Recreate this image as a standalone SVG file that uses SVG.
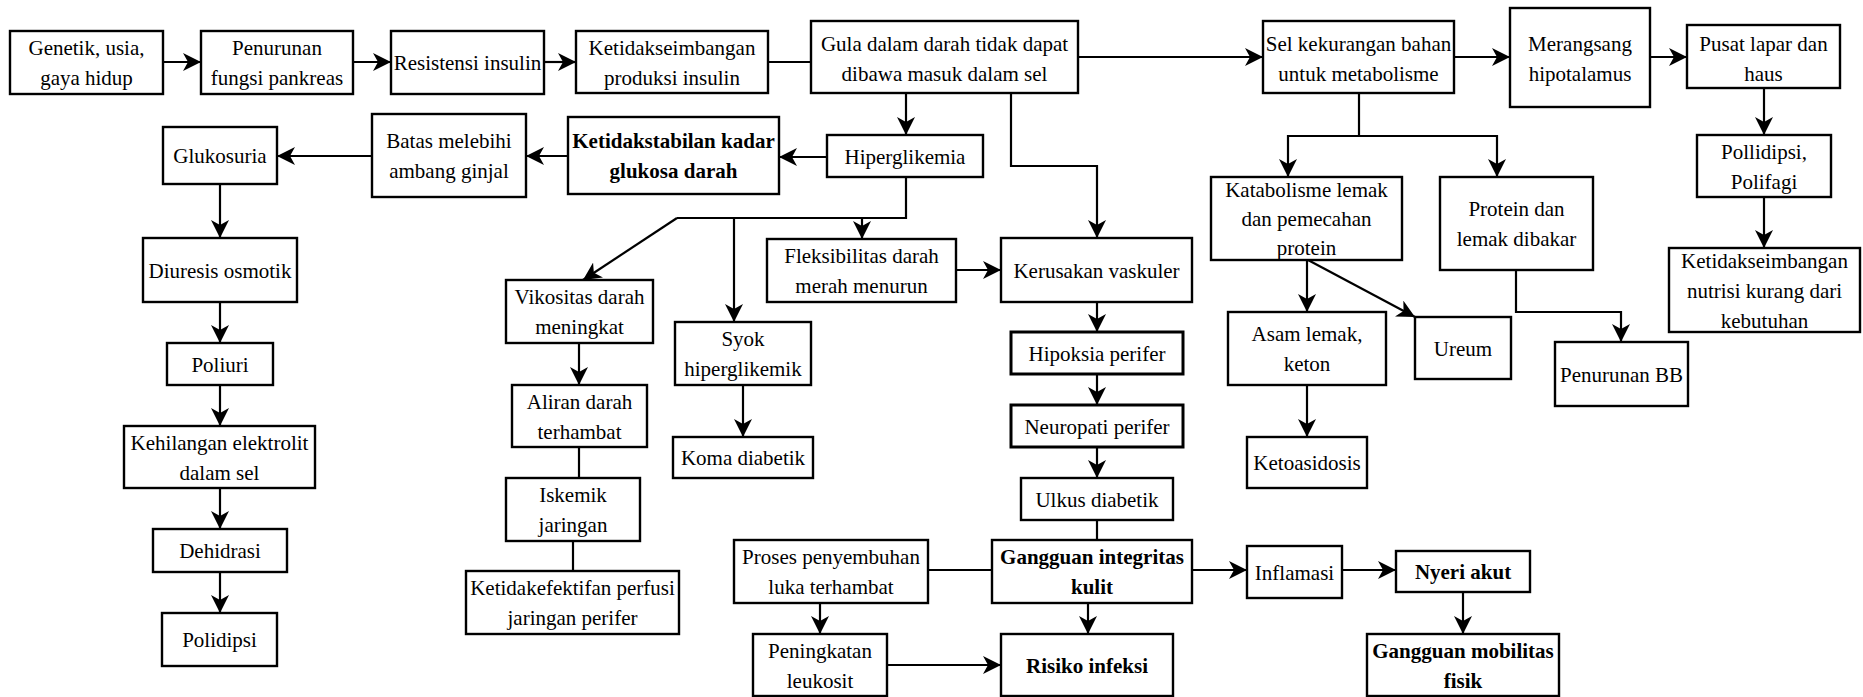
<svg xmlns="http://www.w3.org/2000/svg" width="1863" height="697" viewBox="0 0 1863 697" font-family="'Liberation Serif', 'DejaVu Serif', serif">
<defs>
<marker id="ah" markerUnits="userSpaceOnUse" markerWidth="18" markerHeight="18" viewBox="0 0 18 18" refX="18" refY="9" orient="auto">
<path d="M0,0 L18,9 L0,18 L5,9 z" fill="#000"/>
</marker>
<style>
rect{fill:#fff;stroke:#000;stroke-width:2.4}
text{font-family:'Liberation Serif','DejaVu Serif',serif;font-size:21px;fill:#000;text-anchor:middle}
.b{font-weight:bold}
#connectors path,#connectors line{fill:none;stroke:#000;stroke-width:2.2}
.a{marker-end:url(#ah)}
</style>
</defs>
<rect x="0" y="0" width="1863" height="697" style="fill:#fff;stroke:none"/>
<g id="connectors">
<line class="a" x1="163" y1="62" x2="201" y2="62"/>
<line class="a" x1="353" y1="62" x2="391" y2="62"/>
<line class="a" x1="544" y1="62" x2="576" y2="62"/>
<line x1="768" y1="62" x2="811" y2="62"/>
<line class="a" x1="1078" y1="57" x2="1263" y2="57"/>
<line class="a" x1="1454" y1="57" x2="1510" y2="57"/>
<line class="a" x1="1650" y1="57" x2="1687" y2="57"/>
<line class="a" x1="1764" y1="88" x2="1764" y2="135"/>
<line class="a" x1="1764" y1="197" x2="1764" y2="248"/>
<path d="M1359,93 L1359,136"/>
<path class="a" d="M1359,136 L1288,136 L1288,177"/>
<path class="a" d="M1359,136 L1497,136 L1497,177"/>
<line class="a" x1="1307" y1="260" x2="1307" y2="312"/>
<line class="a" x1="1308" y1="260" x2="1415" y2="317"/>
<line class="a" x1="1307" y1="385" x2="1307" y2="437"/>
<path class="a" d="M1516,270 L1516,312 L1621,312 L1621,342"/>
<line class="a" x1="906" y1="93" x2="906" y2="135"/>
<line class="a" x1="827" y1="157" x2="779" y2="157"/>
<line class="a" x1="568" y1="156" x2="526" y2="156"/>
<line class="a" x1="372" y1="156" x2="277" y2="156"/>
<line class="a" x1="220" y1="184" x2="220" y2="238"/>
<line class="a" x1="220" y1="302" x2="220" y2="343"/>
<line class="a" x1="220" y1="385" x2="220" y2="426"/>
<line class="a" x1="220" y1="488" x2="220" y2="529"/>
<line class="a" x1="220" y1="572" x2="220" y2="613"/>
<path class="a" d="M1011,93 L1011,166 L1097,166 L1097,238"/>
<path d="M906,177 L906,218 L677,218"/>
<line class="a" x1="862" y1="218" x2="862" y2="239"/>
<line class="a" x1="734" y1="218" x2="734" y2="322"/>
<line class="a" x1="677" y1="218" x2="583" y2="280"/>
<line class="a" x1="956" y1="270" x2="1001" y2="270"/>
<line class="a" x1="579" y1="343" x2="579" y2="385"/>
<line x1="579" y1="447" x2="579" y2="478"/>
<line x1="573" y1="541" x2="573" y2="571"/>
<line class="a" x1="743" y1="385" x2="743" y2="437"/>
<line class="a" x1="1097" y1="302" x2="1097" y2="332"/>
<line class="a" x1="1097" y1="374" x2="1097" y2="405"/>
<line class="a" x1="1097" y1="447" x2="1097" y2="478"/>
<line x1="1097" y1="520" x2="1097" y2="540"/>
<line x1="928" y1="570" x2="992" y2="570"/>
<line class="a" x1="1192" y1="570" x2="1247" y2="570"/>
<line class="a" x1="1342" y1="570" x2="1396" y2="570"/>
<line class="a" x1="1463" y1="592" x2="1463" y2="634"/>
<line class="a" x1="1088" y1="603" x2="1088" y2="634"/>
<line class="a" x1="820" y1="603" x2="820" y2="634"/>
<line class="a" x1="887" y1="665" x2="1001" y2="665"/>
</g>
<g id="n1"><rect x="10" y="31" width="153" height="63"/><text x="86.5" y="55">Genetik, usia,</text><text x="86.5" y="85">gaya hidup</text></g>
<g id="n2"><rect x="201" y="31" width="152" height="63"/><text x="277" y="55">Penurunan</text><text x="277" y="85">fungsi pankreas</text></g>
<g id="n3"><rect x="391" y="31" width="153" height="63"/><text x="467.5" y="70">Resistensi insulin</text></g>
<g id="n4"><rect x="576" y="31" width="192" height="62"/><text x="672" y="55">Ketidakseimbangan</text><text x="672" y="85">produksi insulin</text></g>
<g id="n5"><rect x="811" y="21" width="267" height="72"/><text x="944.5" y="51">Gula dalam darah tidak dapat</text><text x="944.5" y="81">dibawa masuk dalam sel</text></g>
<g id="n6"><rect x="1263" y="21" width="191" height="72"/><text x="1358.5" y="51">Sel kekurangan bahan</text><text x="1358.5" y="81">untuk metabolisme</text></g>
<g id="n7"><rect x="1510" y="8" width="140" height="99"/><text x="1580" y="51">Merangsang</text><text x="1580" y="81">hipotalamus</text></g>
<g id="n8"><rect x="1687" y="25" width="153" height="63"/><text x="1763.5" y="51">Pusat lapar dan</text><text x="1763.5" y="81">haus</text></g>
<g id="n9"><rect x="1697" y="135" width="134" height="62"/><text x="1764" y="158.5">Pollidipsi,</text><text x="1764" y="188.5">Polifagi</text></g>
<g id="n10"><rect x="1669" y="248" width="191" height="84"/><text x="1764.5" y="267.5">Ketidakseimbangan</text><text x="1764.5" y="297.5">nutrisi kurang dari</text><text x="1764.5" y="327.5">kebutuhan</text></g>
<g id="n11"><rect x="163" y="127" width="114" height="57"/><text x="220" y="163">Glukosuria</text></g>
<g id="n12"><rect x="372" y="114" width="154" height="83"/><text x="449" y="148">Batas melebihi</text><text x="449" y="178">ambang ginjal</text></g>
<g id="n13"><rect x="568" y="117" width="211" height="77"/><text class="b" x="673.5" y="148">Ketidakstabilan kadar</text><text class="b" x="673.5" y="178">glukosa darah</text></g>
<g id="n14"><rect x="827" y="135" width="156" height="42"/><text x="905" y="163.5">Hiperglikemia</text></g>
<g id="n15"><rect x="1211" y="177" width="191" height="83"/><text x="1306.5" y="197">Katabolisme lemak</text><text x="1306.5" y="226">dan pemecahan</text><text x="1306.5" y="255">protein</text></g>
<g id="n16"><rect x="1440" y="177" width="153" height="93"/><text x="1516.5" y="216">Protein dan</text><text x="1516.5" y="246">lemak dibakar</text></g>
<g id="n17"><rect x="143" y="238" width="154" height="64"/><text x="220" y="277.5">Diuresis osmotik</text></g>
<g id="n18"><rect x="167" y="343" width="106" height="42"/><text x="220" y="371.5">Poliuri</text></g>
<g id="n19"><rect x="124" y="426" width="191" height="62"/><text x="219.5" y="449.5">Kehilangan elektrolit</text><text x="219.5" y="479.5">dalam sel</text></g>
<g id="n20"><rect x="153" y="529" width="134" height="43"/><text x="220" y="558">Dehidrasi</text></g>
<g id="n21"><rect x="162" y="613" width="115" height="53"/><text x="219.5" y="647">Polidipsi</text></g>
<g id="n22"><rect x="506" y="280" width="147" height="63"/><text x="579.5" y="304">Vikositas darah</text><text x="579.5" y="334">meningkat</text></g>
<g id="n23"><rect x="512" y="385" width="135" height="62"/><text x="579.5" y="408.5">Aliran darah</text><text x="579.5" y="438.5">terhambat</text></g>
<g id="n24"><rect x="506" y="478" width="134" height="63"/><text x="573" y="502">Iskemik</text><text x="573" y="532">jaringan</text></g>
<g id="n25"><rect x="466" y="571" width="213" height="63"/><text x="572.5" y="595">Ketidakefektifan perfusi</text><text x="572.5" y="625">jaringan perifer</text></g>
<g id="n26"><rect x="675" y="322" width="136" height="63"/><text x="743" y="346">Syok</text><text x="743" y="376">hiperglikemik</text></g>
<g id="n27"><rect x="673" y="437" width="140" height="41"/><text x="743" y="465">Koma diabetik</text></g>
<g id="n28"><rect x="767" y="239" width="189" height="63"/><text x="861.5" y="263">Fleksibilitas darah</text><text x="861.5" y="293">merah menurun</text></g>
<g id="n29"><rect x="1001" y="238" width="191" height="64"/><text x="1096.5" y="277.5">Kerusakan vaskuler</text></g>
<g id="n30"><rect x="1011" y="332" width="172" height="42" style="stroke-width:3"/><text x="1097" y="360.5">Hipoksia perifer</text></g>
<g id="n31"><rect x="1011" y="405" width="172" height="42" style="stroke-width:3"/><text x="1097" y="433.5">Neuropati perifer</text></g>
<g id="n32"><rect x="1021" y="478" width="152" height="42"/><text x="1097" y="506.5">Ulkus diabetik</text></g>
<g id="n33"><rect x="992" y="540" width="200" height="63"/><text class="b" x="1092" y="564">Gangguan integritas</text><text class="b" x="1092" y="594">kulit</text></g>
<g id="n34"><rect x="734" y="540" width="194" height="63"/><text x="831" y="564">Proses penyembuhan</text><text x="831" y="594">luka terhambat</text></g>
<g id="n35"><rect x="753" y="634" width="134" height="62"/><text x="820" y="657.5">Peningkatan</text><text x="820" y="687.5">leukosit</text></g>
<g id="n36"><rect x="1001" y="634" width="172" height="62"/><text class="b" x="1087" y="672.5">Risiko infeksi</text></g>
<g id="n37"><rect x="1247" y="546" width="95" height="52"/><text x="1294.5" y="579.5">Inflamasi</text></g>
<g id="n38"><rect x="1396" y="551" width="134" height="41"/><text class="b" x="1463" y="579">Nyeri akut</text></g>
<g id="n39"><rect x="1367" y="634" width="192" height="62"/><text class="b" x="1463" y="657.5">Gangguan mobilitas</text><text class="b" x="1463" y="687.5">fisik</text></g>
<g id="n40"><rect x="1228" y="312" width="158" height="73"/><text x="1307" y="341">Asam lemak,</text><text x="1307" y="371">keton</text></g>
<g id="n41"><rect x="1415" y="317" width="96" height="62"/><text x="1463" y="355.5">Ureum</text></g>
<g id="n42"><rect x="1247" y="437" width="120" height="51"/><text x="1307" y="470">Ketoasidosis</text></g>
<g id="n43"><rect x="1555" y="342" width="133" height="64"/><text x="1621.5" y="381.5">Penurunan BB</text></g>
</svg>
